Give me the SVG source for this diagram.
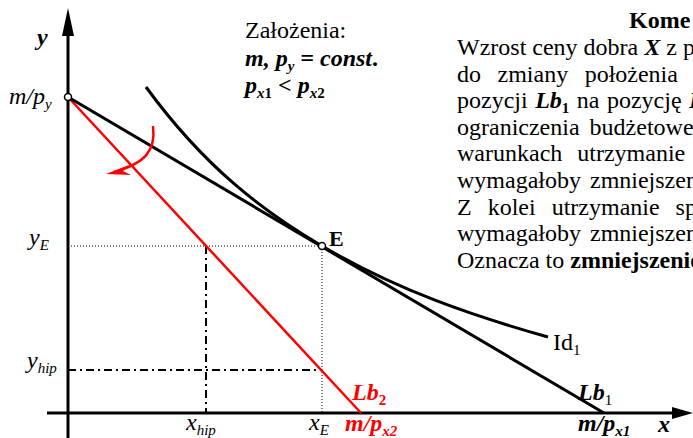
<svg xmlns="http://www.w3.org/2000/svg" width="693" height="438" viewBox="0 0 693 438" font-family="'Liberation Serif', 'DejaVu Serif', serif">
<style>
text{font-family:'Liberation Serif','DejaVu Serif',serif;font-size:24px;fill:#000}
.bi{font-weight:bold;font-style:italic}
.b{font-weight:bold}
.i{font-style:italic}
.sub{font-size:15px}
.red{fill:#ff0000}
.ax{stroke:#000;stroke-width:3;fill:none}
.lb1{stroke:#000;stroke-width:3;fill:none}
.lb2{stroke:#ff0000;stroke-width:2.5;fill:none}
.dot{stroke:#000;stroke-width:1;stroke-dasharray:1 2;fill:none}
.dd{stroke:#000;stroke-width:2;stroke-dasharray:8 4 2 4;fill:none}
.pt{fill:#fff;stroke:#000;stroke-width:1.5}
</style>
<rect width="693" height="438" fill="#fff"/>
<g id="axes">
<line class="ax" x1="68" y1="438" x2="68" y2="30"/>
<polygon points="68,8 62,36 74,36" fill="#000"/>
<line class="ax" x1="47" y1="413" x2="676" y2="413"/>
<polygon points="693,413 672,407 672,419" fill="#000"/>
<text x="37" y="45" class="bi">y</text>
<text x="658" y="432" class="bi">x</text>
</g>
<g id="connectors">
<line class="dot" x1="68" y1="246" x2="322" y2="246"/>
<line class="dot" x1="322" y1="246" x2="322" y2="413"/>
<line class="dd" x1="68" y1="370" x2="322" y2="370"/>
<line class="dd" x1="206" y1="246" x2="206" y2="413"/>
<line class="lb2" x1="68" y1="97" x2="361" y2="413"/>
<line class="lb1" x1="68" y1="97" x2="604" y2="413"/>
<path d="M153,126 C156,150 146,163 114,172" stroke="#ff0000" stroke-width="2.5" fill="none"/>
<polygon points="106,174 129,165 123,171 131,175" fill="#ff0000"/>
</g>
<g id="Id1">
<path d="M146,87 C204.7,167.4 263.3,211.5 322,246 C397.3,290.3 472.7,315.8 548,337" stroke="#000" stroke-width="3" fill="none"/>
<text x="553" y="350">Id<tspan class="sub" dy="5">1</tspan></text>
</g>
<g id="mpy">
<circle class="pt" cx="68" cy="97" r="3.5"/>
<text x="9" y="104" class="i">m/p<tspan class="sub" dy="5">y</tspan></text>
</g>
<g id="E">
<circle class="pt" cx="322" cy="246" r="3.5"/>
<text x="329" y="246" class="b" style="font-size:22px">E</text>
</g>
<g id="labels">
<text x="29" y="245" class="i">y<tspan class="sub" dy="5">E</tspan></text>
<text x="27" y="368" class="i">y<tspan class="sub" dy="5">hip</tspan></text>
<text x="186" y="430" class="i">x<tspan class="sub" dy="5">hip</tspan></text>
<text x="309" y="430" class="i">x<tspan class="sub" dy="5">E</tspan></text>
<text x="345" y="431" class="bi red">m/p<tspan class="sub" dy="5">x2</tspan></text>
<text x="578" y="431" class="bi">m/p<tspan class="sub" dy="5">x1</tspan></text>
<text x="352" y="400" class="bi red">Lb<tspan class="sub" dy="5" style="font-style:normal">2</tspan></text>
<text x="578" y="400" class="bi">Lb<tspan class="sub" dy="5" style="font-style:normal;font-weight:normal">1</tspan></text>
</g>
<g id="assumptions">
<text x="245" y="38">Założenia:</text>
<text x="245" y="66" class="bi">m, p<tspan class="sub" dy="5">y</tspan><tspan dy="-5"> = const</tspan><tspan style="font-style:normal">.</tspan></text>
<text x="245" y="93" class="bi">p<tspan class="sub" dy="5">x<tspan style="font-style:normal">1</tspan></tspan><tspan dy="-5" style="font-style:normal"> &lt; </tspan>p<tspan class="sub" dy="5">x<tspan style="font-style:normal">2</tspan></tspan></text>
</g>
<g id="comment">
<text x="629" y="28" class="b">Kome</text>
<text x="457" y="55">Wzrost ceny dobra <tspan class="bi">X</tspan> z p</text>
<text x="457" y="81.6" style="word-spacing:10.5px">do zmiany położenia</text>
<text x="457" y="108.2" style="word-spacing:1.5px">pozycji <tspan class="bi">Lb</tspan><tspan class="sub b" dy="5">1</tspan><tspan dy="-5"> na pozycję </tspan><tspan class="bi">L</tspan></text>
<text x="457" y="134.8" style="word-spacing:4px">ograniczenia budżetowe</text>
<text x="457" y="161.4" style="word-spacing:9px">warunkach utrzymanie</text>
<text x="457" y="188" style="word-spacing:3px">wymagałoby zmniejszen</text>
<text x="457" y="214.6" style="word-spacing:10px">Z kolei utrzymanie sp</text>
<text x="457" y="241.2" style="word-spacing:3px">wymagałoby zmniejszen</text>
<text x="457" y="267.8">Oznacza to <tspan class="b">zmniejszenie</tspan></text>
</g>
</svg>
